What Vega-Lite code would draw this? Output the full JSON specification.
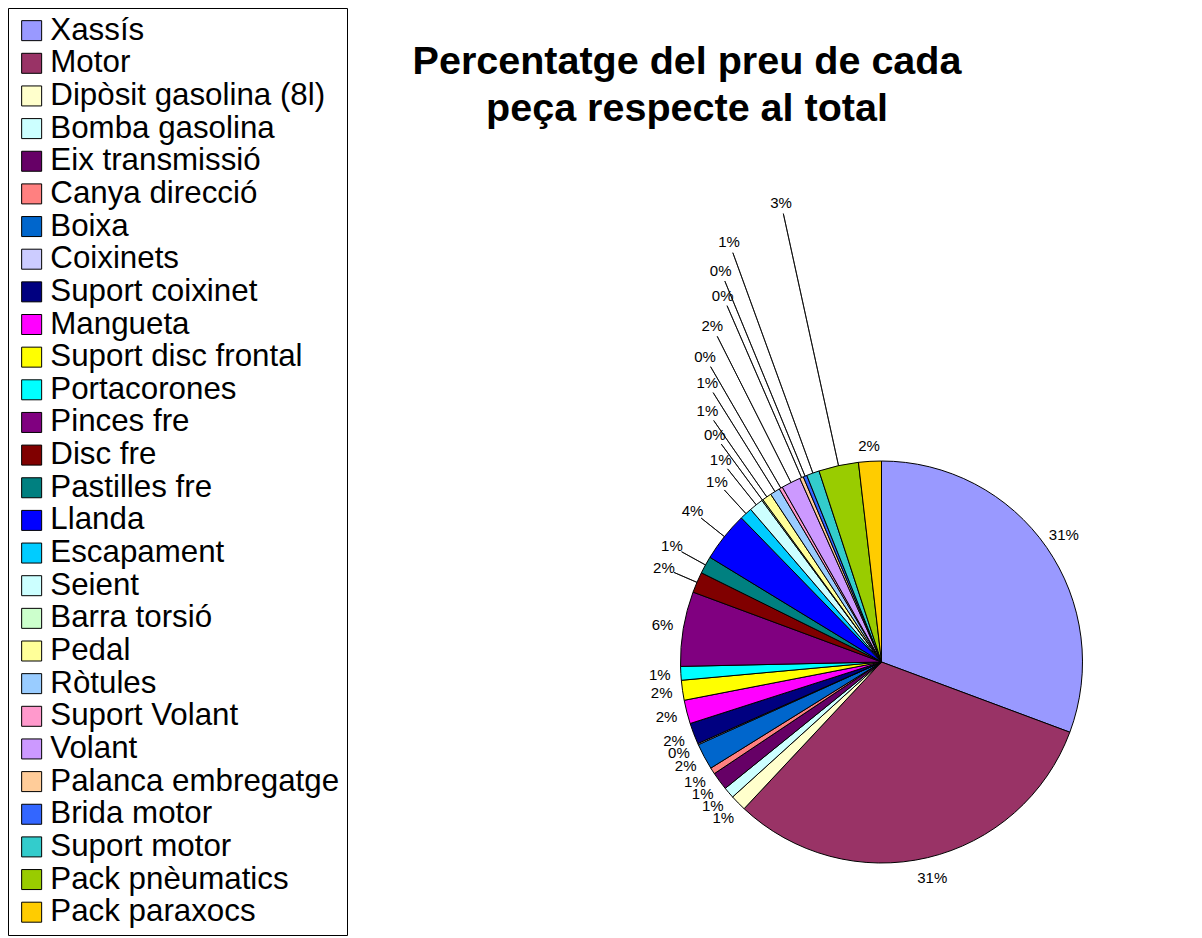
{
  "$schema": "https://vega.github.io/schema/vega-lite/v6.json",
  "width": 641,
  "height": 552,
  "autosize": {"type": "none"},
  "padding": {"left": 561, "top": 386, "right": 0, "bottom": 0},
  "background": "white",
  "config": {"view": {"stroke": null}},
  "title": {
    "text": ["Percentatge del preu de cada", "peça respecte al total"],
    "font": "Liberation Sans",
    "fontSize": 39.5,
    "fontWeight": "bold",
    "color": "black",
    "anchor": "middle",
    "frame": "group",
    "dx": -194.5,
    "offset": -122,
    "lineHeight": 47
  },
  "data": {
    "values": [
      {"ordre": 1, "peca": "Xassís", "share": 0.3068},
      {"ordre": 2, "peca": "Motor", "share": 0.3130},
      {"ordre": 3, "peca": "Dipòsit gasolina (8l)", "share": 0.0130},
      {"ordre": 4, "peca": "Bomba gasolina", "share": 0.0090},
      {"ordre": 5, "peca": "Eix transmissió", "share": 0.0145},
      {"ordre": 6, "peca": "Canya direcció", "share": 0.0052},
      {"ordre": 7, "peca": "Boixa", "share": 0.0210},
      {"ordre": 8, "peca": "Coixinets", "share": 0.0010},
      {"ordre": 9, "peca": "Suport coixinet", "share": 0.0170},
      {"ordre": 10, "peca": "Mangueta", "share": 0.0190},
      {"ordre": 11, "peca": "Suport disc frontal", "share": 0.0160},
      {"ordre": 12, "peca": "Portacorones", "share": 0.0110},
      {"ordre": 13, "peca": "Pinces fre", "share": 0.0600},
      {"ordre": 14, "peca": "Disc fre", "share": 0.0167},
      {"ordre": 15, "peca": "Pastilles fre", "share": 0.0140},
      {"ordre": 16, "peca": "Llanda", "share": 0.0400},
      {"ordre": 17, "peca": "Escapament", "share": 0.0100},
      {"ordre": 18, "peca": "Seient", "share": 0.0114},
      {"ordre": 19, "peca": "Barra torsió", "share": 0.0010},
      {"ordre": 20, "peca": "Pedal", "share": 0.0075},
      {"ordre": 21, "peca": "Ròtules", "share": 0.0080},
      {"ordre": 22, "peca": "Suport Volant", "share": 0.0028},
      {"ordre": 23, "peca": "Volant", "share": 0.0155},
      {"ordre": 24, "peca": "Palanca embregatge", "share": 0.0030},
      {"ordre": 25, "peca": "Brida motor", "share": 0.0030},
      {"ordre": 26, "peca": "Suport motor", "share": 0.0103},
      {"ordre": 27, "peca": "Pack pnèumatics", "share": 0.0320},
      {"ordre": 28, "peca": "Pack paraxocs", "share": 0.0183}
    ]
  },
  "layer": [
    {
      "mark": {"type": "arc", "outerRadius": 201, "stroke": "black", "strokeWidth": 1},
      "encoding": {
        "theta": {"field": "share", "type": "quantitative", "stack": true},
        "order": {"field": "ordre", "type": "quantitative", "sort": "ascending"},
        "color": {
          "field": "peca",
          "type": "nominal",
          "scale": {
            "domain": ["Xassís", "Motor", "Dipòsit gasolina (8l)", "Bomba gasolina", "Eix transmissió", "Canya direcció", "Boixa", "Coixinets", "Suport coixinet", "Mangueta", "Suport disc frontal", "Portacorones", "Pinces fre", "Disc fre", "Pastilles fre", "Llanda", "Escapament", "Seient", "Barra torsió", "Pedal", "Ròtules", "Suport Volant", "Volant", "Palanca embregatge", "Brida motor", "Suport motor", "Pack pnèumatics", "Pack paraxocs"],
            "range": ["#9999FF", "#993366", "#FFFFCC", "#CCFFFF", "#660066", "#FF8080", "#0066CC", "#CCCCFF", "#000080", "#FF00FF", "#FFFF00", "#00FFFF", "#800080", "#800000", "#008080", "#0000FF", "#00CCFF", "#CCFFFF", "#CCFFCC", "#FFFF99", "#99CCFF", "#FF99CC", "#CC99FF", "#FFCC99", "#3366FF", "#33CCCC", "#99CC00", "#FFCC00"]
          },
          "legend": {
            "title": null,
            "orient": "none",
            "legendX": -553,
            "legendY": -378,
            "symbolType": "square",
            "symbolSize": 400,
            "symbolStrokeColor": "black",
            "symbolStrokeWidth": 1,
            "symbolOpacity": 1,
            "labelFont": "Liberation Sans",
            "labelFontSize": 31.3,
            "labelColor": "black",
            "labelLimit": 600,
            "labelOffset": 3,
            "padding": 7,
            "symbolOffset": 1,
            "rowPadding": 0.65,
            "strokeColor": "black",
            "fillColor": "white",
            "cornerRadius": 0
          }
        }
      }
    },
    {
      "transform": [
        {"stack": "share", "groupby": [], "sort": [{"field": "ordre", "order": "ascending"}], "as": ["s0", "s1"]},
        {"calculate": "(datum.s0 + datum.s1) / 2", "as": "mid"},
        {"filter": "datum.ordre >= 14 && datum.ordre <= 27"}
      ],
      "mark": {"type": "arc", "radius2": 201, "radiusOffset": -11, "stroke": "black", "strokeWidth": 0.8, "fill": null},
      "encoding": {
        "theta": {"field": "mid", "type": "quantitative"},
        "theta2": {"field": "mid"},
        "radius": {
          "field": "ordre",
          "type": "quantitative",
          "scale": {"type": "linear", "zero": false, "domain": [1, 13, 14, 17, 18, 27, 28], "range": [222, 222, 237, 244, 258, 470, 216]}
        }
      }
    },
    {
      "transform": [
        {"stack": "share", "groupby": [], "sort": [{"field": "ordre", "order": "ascending"}], "as": ["s0", "s1"]},
        {"calculate": "(datum.s0 + datum.s1) / 2", "as": "mid"}
      ],
      "mark": {"type": "text", "font": "Liberation Sans", "fontSize": 15, "color": "black", "align": "center", "baseline": "middle"},
      "encoding": {
        "theta": {"field": "mid", "type": "quantitative"},
        "radius": {
          "field": "ordre",
          "type": "quantitative",
          "scale": {"type": "linear", "zero": false, "domain": [1, 13, 14, 17, 18, 27, 28], "range": [222, 222, 237, 244, 258, 470, 216]}
        },
        "text": {"field": "share", "type": "quantitative", "format": ".0%"}
      }
    }
  ]
}
